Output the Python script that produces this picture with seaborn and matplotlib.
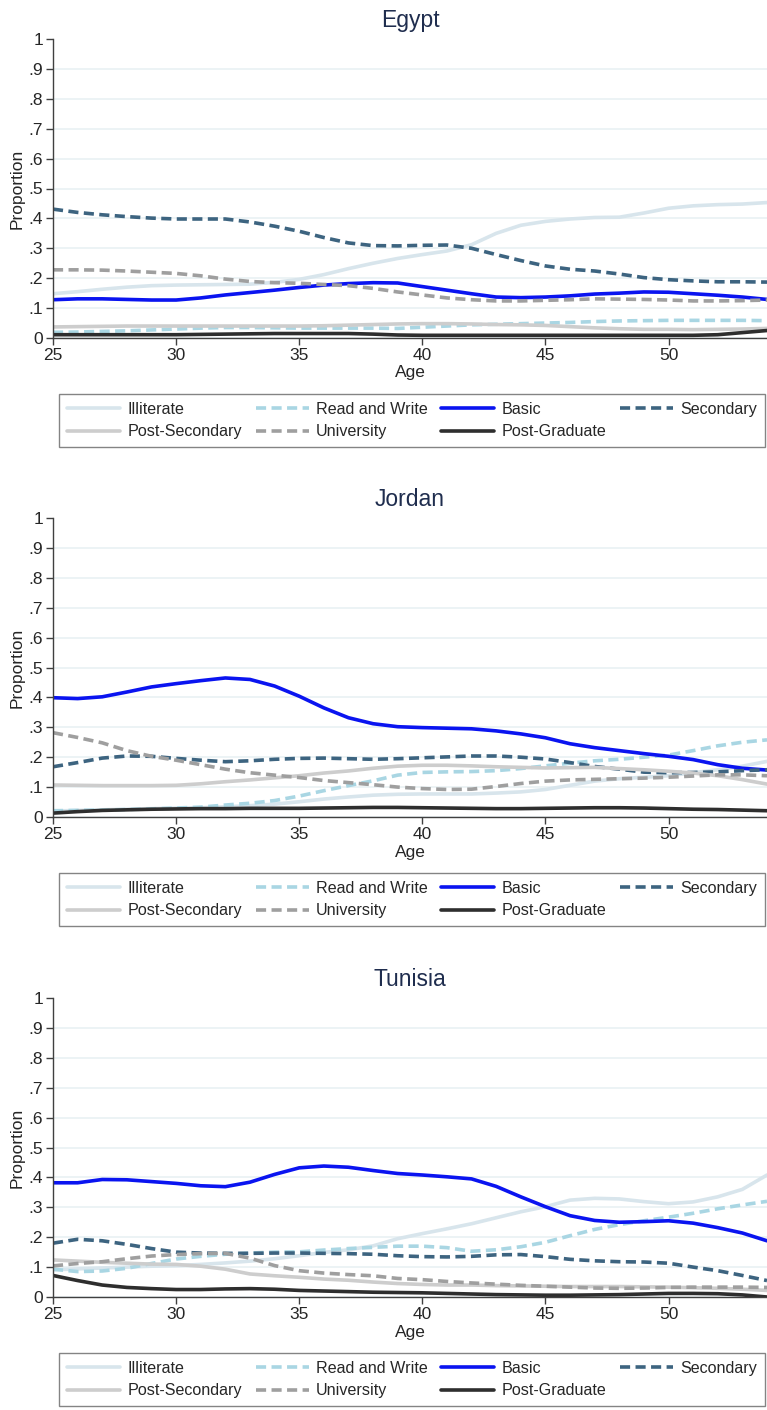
import numpy as np
import pandas as pd
import seaborn as sns
import matplotlib.pyplot as plt
from matplotlib.lines import Line2D

# Ages on the x axis
ages = list(range(25, 55))
levels = ['Illiterate', 'Read and Write', 'Basic', 'Secondary',
          'Post-Secondary', 'University', 'Post-Graduate']

# Egypt
egypt_illiterate = [.148, .155, .163, .170, .175, .177, .178, .179, .180, .186,
                    .196, .212, .232, .250, .266, .279, .291, .312, .350, .377,
                    .390, .398, .403, .404, .418, .434, .442, .446, .448, .453]
egypt_read_write = [.019, .020, .022, .024, .027, .030, .033, .035, .035, .034,
                    .033, .033, .033, .033, .032, .036, .040, .044, .046, .048,
                    .050, .052, .055, .057, .058, .059, .059, .059, .059, .058]
egypt_basic = [.128, .131, .131, .129, .127, .127, .134, .144, .152, .160,
               .169, .177, .182, .185, .184, .172, .160, .148, .137, .135,
               .137, .141, .147, .150, .154, .153, .148, .143, .137, .129]
egypt_secondary = [.431, .420, .412, .406, .401, .398, .398, .398, .388, .374,
                   .357, .336, .318, .309, .308, .310, .311, .300, .279, .259,
                   .241, .230, .224, .214, .202, .195, .191, .188, .188, .187]
egypt_post_secondary = [.037, .038, .039, .040, .040, .040, .040, .040, .040, .040,
                        .040, .041, .043, .045, .047, .048, .048, .047, .045, .044,
                        .042, .038, .034, .031, .029, .029, .028, .029, .030, .032]
egypt_university = [.228, .228, .227, .224, .220, .216, .208, .197, .189, .185,
                    .183, .179, .175, .166, .154, .144, .134, .128, .124, .124,
                    .126, .128, .131, .130, .129, .127, .124, .124, .125, .127]
egypt_post_graduate = [.011, .011, .011, .011, .011, .011, .012, .013, .014, .015,
                       .015, .015, .015, .013, .010, .009, .009, .009, .009, .009,
                       .009, .009, .009, .009, .009, .009, .009, .011, .018, .025]

# Jordan
jordan_illiterate = [.020, .022, .024, .026, .028, .030, .031, .034, .038, .043,
                     .051, .060, .067, .073, .076, .077, .077, .077, .080, .084,
                     .092, .106, .120, .128, .133, .138, .148, .158, .170, .186]
jordan_read_write = [.021, .022, .023, .025, .027, .030, .033, .040, .046, .055,
                     .070, .088, .105, .121, .140, .149, .151, .152, .155, .162,
                     .171, .180, .188, .193, .200, .207, .222, .238, .250, .258]
jordan_basic = [.399, .396, .402, .418, .435, .446, .456, .465, .460, .438,
                .404, .365, .332, .312, .302, .299, .297, .295, .288, .278,
                .265, .245, .232, .222, .212, .203, .192, .175, .163, .157]
jordan_secondary = [.168, .182, .197, .204, .203, .196, .190, .185, .188, .193,
                    .196, .197, .195, .193, .195, .198, .201, .204, .204, .200,
                    .194, .182, .169, .160, .150, .148, .149, .151, .155, .158]
jordan_post_secondary = [.107, .106, .105, .105, .105, .106, .111, .118, .124, .131,
                         .138, .147, .154, .163, .170, .173, .173, .171, .168, .166,
                         .164, .165, .166, .162, .158, .153, .147, .138, .125, .110]
jordan_university = [.282, .266, .248, .222, .203, .190, .175, .160, .148, .140,
                     .132, .122, .115, .108, .100, .095, .092, .093, .102, .112,
                     .120, .124, .126, .128, .130, .133, .137, .141, .141, .138]
jordan_post_graduate = [.013, .018, .022, .024, .026, .027, .028, .028, .029, .029,
                        .029, .030, .031, .032, .032, .031, .030, .029, .028, .028,
                        .029, .030, .031, .031, .030, .028, .026, .025, .023, .021]

# Tunisia
tunisia_illiterate = [.091, .094, .097, .100, .103, .105, .109, .114, .120, .128,
                      .138, .149, .158, .171, .195, .212, .228, .245, .265, .285,
                      .302, .324, .330, .328, .319, .312, .318, .335, .360, .408]
tunisia_read_write = [.093, .085, .087, .096, .112, .127, .136, .143, .147, .150,
                      .151, .157, .162, .166, .170, .170, .165, .153, .158, .168,
                      .183, .205, .226, .242, .255, .267, .280, .295, .308, .320]
tunisia_basic = [.382, .382, .393, .392, .386, .380, .372, .369, .384, .410,
                 .432, .438, .434, .423, .413, .408, .402, .395, .370, .335,
                 .302, .272, .256, .250, .252, .255, .247, .232, .214, .188]
tunisia_secondary = [.180, .193, .188, .176, .162, .150, .147, .146, .146, .147,
                     .147, .146, .145, .143, .138, .135, .134, .136, .141, .142,
                     .135, .126, .121, .118, .117, .113, .100, .088, .072, .055]
tunisia_post_secondary = [.124, .120, .116, .113, .110, .109, .103, .093, .077, .071,
                          .066, .060, .056, .050, .045, .042, .040, .040, .038, .037,
                          .036, .035, .035, .035, .034, .033, .031, .029, .026, .022]
tunisia_university = [.104, .112, .118, .128, .137, .142, .145, .146, .130, .105,
                      .088, .080, .075, .071, .062, .058, .052, .047, .043, .039,
                      .036, .033, .030, .029, .030, .032, .033, .033, .033, .032]
tunisia_post_graduate = [.072, .055, .040, .032, .028, .025, .025, .027, .028, .026,
                         .022, .020, .018, .016, .015, .014, .012, .010, .008, .007,
                         .006, .006, .007, .008, .010, .012, .012, .011, .007, .000]

countries = {
    'Egypt': [egypt_illiterate, egypt_read_write, egypt_basic, egypt_secondary,
              egypt_post_secondary, egypt_university, egypt_post_graduate],
    'Jordan': [jordan_illiterate, jordan_read_write, jordan_basic, jordan_secondary,
               jordan_post_secondary, jordan_university, jordan_post_graduate],
    'Tunisia': [tunisia_illiterate, tunisia_read_write, tunisia_basic, tunisia_secondary,
                tunisia_post_secondary, tunisia_university, tunisia_post_graduate],
}

colors = {
    'Illiterate': '#d8e5ec',
    'Read and Write': '#a9d6e3',
    'Basic': '#0a14f0',
    'Secondary': '#3d6480',
    'Post-Secondary': '#cdcdcd',
    'University': '#9f9f9f',
    'Post-Graduate': '#2e2e2e',
}
dash = (2.8, 1.5)
dashes = {
    'Illiterate': '', 'Read and Write': dash, 'Basic': '', 'Secondary': dash,
    'Post-Secondary': '', 'University': dash, 'Post-Graduate': '',
}

sns.set_style('white')
plt.rcParams['font.family'] = ['Liberation Sans', 'DejaVu Sans']

W, H = 767, 1410
fig = plt.figure(figsize=(W / 100, H / 100), dpi=100)
tops = [39, 518, 998]
lw = 2.6

for (name, series), top in zip(countries.items(), tops):
    ax = fig.add_axes([53 / W, 1 - (top + 299) / H, 714 / W, 299 / H])

    # long table for seaborn
    df = pd.DataFrame({
        'age': ages * len(levels),
        'prop': [v for s in series for v in s],
        'level': [lv for lv in levels for _ in ages],
    })
    sns.lineplot(data=df, x='age', y='prop', hue='level', style='level',
                 hue_order=levels, style_order=levels, palette=colors,
                 dashes=dashes, linewidth=lw, estimator=None, errorbar=None,
                 legend=False, ax=ax)

    ax.set_xlim(25, 54)
    ax.set_ylim(0, 1)
    ax.set_xticks([25, 30, 35, 40, 45, 50])
    yt = np.round(np.arange(0, 1.01, 0.1), 1)
    ax.set_yticks(yt, ['0'] + ['.%d' % i for i in range(1, 10)] + ['1'])
    ax.grid(axis='y', color='#e9f1f3', lw=1.2)
    ax.get_ygridlines()[-1].set_visible(False)
    ax.set_axisbelow(True)
    for sp in ['top', 'right']:
        ax.spines[sp].set_visible(False)
    for sp in ['left', 'bottom']:
        ax.spines[sp].set_color('#404040')
        ax.spines[sp].set_linewidth(1)
    ax.tick_params(axis='both', left=True, bottom=True, direction='out',
                   length=5, width=1, color='#404040', labelsize=12.5, pad=2)
    ax.set_title(name, fontsize=16.5, color='#1f2d4e', pad=9)
    ax.set_xlabel('Age', fontsize=12.5, labelpad=2)
    ax.set_ylabel('Proportion', fontsize=12.5, labelpad=3)

    # legend in row-major order like the original, stretched to the right edge
    handles = [Line2D([], [], color=colors[lv], lw=lw,
                      dashes=dashes[lv] if dashes[lv] else (None, None))
               for lv in levels]
    order = [0, 4, 1, 5, 2, 6, 3]
    fig.legend([handles[i] for i in order], [levels[i] for i in order],
               loc='upper left',
               bbox_to_anchor=(59 / W, 1 - (top + 355) / H, 706 / W, 0),
               mode='expand', ncol=4, frameon=True, fancybox=False,
               edgecolor='#666666', fontsize=11.6, handlelength=3.3,
               handletextpad=0.45, columnspacing=0.45, labelspacing=0.45,
               borderpad=0.5, borderaxespad=0)

fig.savefig('out.png', dpi=100, facecolor='white')
